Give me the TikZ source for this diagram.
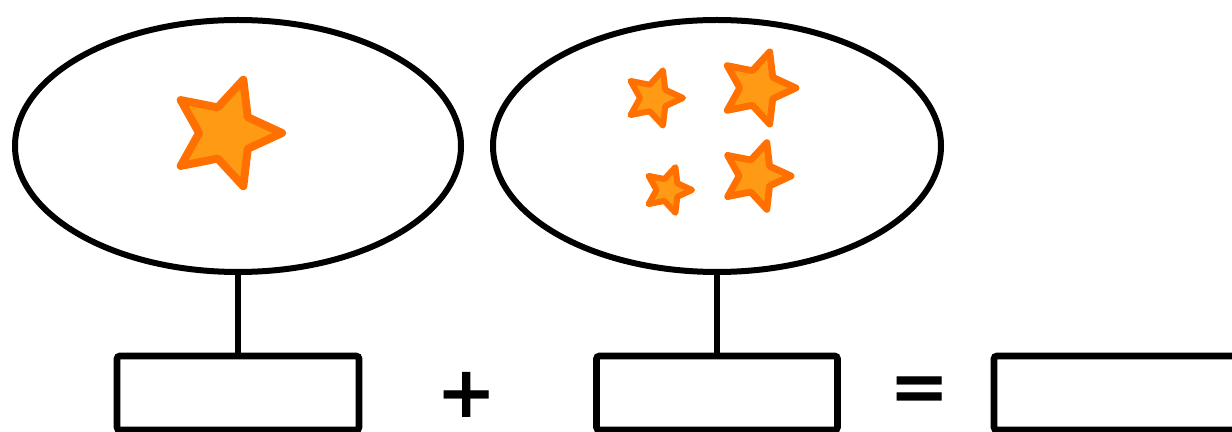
\documentclass[tikz,border=0pt]{standalone}
\usepackage{fontspec}
\newfontfamily\symfont{DejaVu Sans}
\usetikzlibrary{shapes.geometric}
\definecolor{starline}{HTML}{FF7000}
\definecolor{starfill}{HTML}{FF9A14}
\tikzset{
  bubble/.style={ellipse, draw=black, line width=3pt, inner sep=0pt},
  answerbox/.style={rectangle, draw=black, line width=3.4pt, rounded corners=1.5pt, inner sep=0pt, minimum height=37pt},
  link/.style={draw=black, line width=3.2pt},
  opsign/.style={inner sep=0pt, font=\symfont\bfseries\fontsize{36}{36}\selectfont},
  starsty/.style={draw=starline, fill=starfill, line join=round},
}
\newcommand{\ostar}[5]{%
  \path[starsty, line width=#5, shift={(#1,#2)}, rotate=#4]
    (0:#3) -- (36:{0.48*#3}) -- (72:#3) -- (108:{0.48*#3}) -- (144:#3) --
    (180:{0.48*#3}) -- (216:#3) -- (252:{0.48*#3}) -- (288:#3) --
    (324:{0.48*#3}) -- cycle;}
\begin{document}
\begin{tikzpicture}[x=0.5pt, y=-0.5pt]
  \useasboundingbox (0,0) rectangle (1232,432);
  \begin{scope}
  \clip (0,0) rectangle (1232,432);
  % bubbles
  \node[bubble, minimum width=223pt, minimum height=126pt] (e1) at (238,146) {};
  \node[bubble, minimum width=224pt, minimum height=126pt] (e2) at (717,146) {};
  % boxes
  \node[answerbox, minimum width=121pt] (b1) at (238,393) {};
  \node[answerbox, minimum width=120.5pt] (b2) at (717,393) {};
  \node[answerbox, minimum width=123pt] (b3) at (1117,393) {};
  % connectors
  \draw[link] (e1.south) -- (b1.north);
  \draw[link] (e2.south) -- (b2.north);
  % operators
  \node[opsign] (plus) at (467,395) {+};
  \node[opsign] (eq) at (920,394) {=};
  % stars
  \ostar{226}{133}{56}{0}{4pt}
  \ostar{654}{98}{29}{0}{3pt}
  \ostar{758}{88}{38}{0}{3.4pt}
  \ostar{668}{190}{24}{0}{3pt}
  \ostar{756}{176}{35}{0}{3.4pt}
  \end{scope}
\end{tikzpicture}
\end{document}
